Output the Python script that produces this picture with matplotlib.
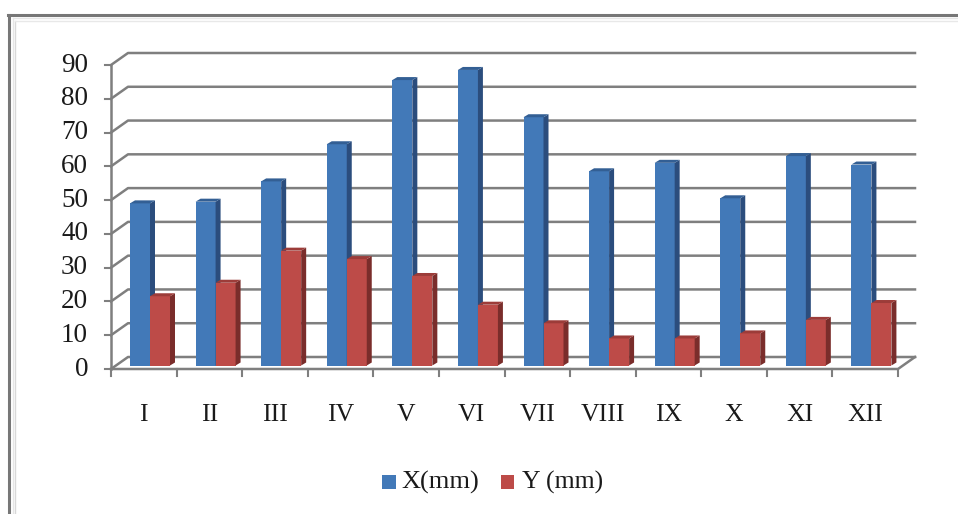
import matplotlib
matplotlib.use("Agg")
import matplotlib.pyplot as plt
from matplotlib.patches import Polygon, Rectangle

months = ["I", "II", "III", "IV", "V", "VI", "VII", "VIII", "IX", "X", "XI", "XII"]
x_mm = [48, 48.5, 54.5, 65.5, 84.5, 87.5, 73.5, 57.5, 60, 49.5, 62, 59.5]
y_mm = [20.5, 24.5, 34, 31.5, 26.5, 18, 12.5, 8, 8, 9.5, 13.5, 18.5]
y_ticks = [0, 10, 20, 30, 40, 50, 60, 70, 80, 90]

W, H = 958, 514
plt.rcParams["font.family"] = "Liberation Serif"
fig = plt.figure(figsize=(W / 100, H / 100), dpi=100)

# front plane of the fake 3d box, in pixels
left, right, y0, y90 = 111, 898, 369, 65
ax = fig.add_axes([left / W, 1 - y0 / H, (right - left) / W, (y0 - y90) / H])
ax.set_xlim(0, 12)
ax.set_ylim(0, 90)
ax.axis("off")

px = 12 / (right - left)
py = 90 / (y0 - y90)
dx, dy = 17 * px, 12 * py


def p(verts, **kw):
    ax.add_patch(Polygon(verts, closed=True, clip_on=False, **kw))


# grid on back wall + the slanted bit on the left side
grid = "#7f7f7f"
for v in y_ticks:
    ax.plot([0, dx, 12 + dx], [v, v + dy, v + dy], color=grid, lw=1.8, clip_on=False, zorder=1)
    ax.plot([-6 * px, 0], [v, v], color=grid, lw=1.5, clip_on=False, zorder=1)
ax.plot([0, 0], [0, 90], color=grid, lw=1.8, clip_on=False, zorder=1)
ax.plot([0, 12, 12 + dx], [0, 0, dy], color=grid, lw=1.8, clip_on=False, zorder=1)
for i in range(13):
    ax.plot([i, i], [0, -7 * py], color=grid, lw=1.5, clip_on=False, zorder=1)


def bar3d(i, val, off, face, side, top):
    # off = front left of the bar in px from the category start
    x0 = i + off * px
    w = 20 * px
    b = 3.5 * py
    ddx, ddy = 5 * px, 3 * py
    ax.bar(x0, val, w, bottom=b, align="edge", color=face, zorder=3, clip_on=False)
    top_y = b + val
    p([(x0 + w, b), (x0 + w + ddx, b + ddy), (x0 + w + ddx, top_y + ddy), (x0 + w, top_y)], fc=side, ec="none", zorder=3)
    p([(x0, top_y), (x0 + ddx, top_y + ddy), (x0 + w + ddx, top_y + ddy), (x0 + w, top_y)], fc=top, ec="none", zorder=3)


for i in range(12):
    bar3d(i, x_mm[i], 19, "#4279b8", "#2b4d7d", "#335f94")
    bar3d(i, y_mm[i], 39, "#bd4b48", "#7a2d2b", "#9c3c39")

for v in y_ticks:
    ax.text(-23 * px, v, str(v), ha="right", va="center", fontsize=19.5, color="#1a1a1a")
for i, m in enumerate(months):
    ax.text(i + 0.5, -46 * py, m, ha="center", va="center", fontsize=18.5, color="#1a1a1a")

# legend done by hand
fig.add_artist(Rectangle((382 / W, 1 - 489 / H), 14 / W, 14 / H, fc="#4279b8", ec="none"))
fig.text(401 / W, 1 - 482 / H, "X(mm)", ha="left", va="center", fontsize=19, color="#1a1a1a")
fig.add_artist(Rectangle((501 / W, 1 - 489 / H), 13 / W, 14 / H, fc="#bd4b48", ec="none"))
fig.text(522 / W, 1 - 482 / H, "Y (mm)", ha="left", va="center", fontsize=18.5, color="#1a1a1a")

# picture frame
fig.add_artist(plt.Line2D([8.5 / W, 8.5 / W], [0, 1 - 15 / H], color="#777777", lw=2.2))
fig.add_artist(plt.Line2D([7.5 / W, 1], [1 - 15 / H, 1 - 15 / H], color="#777777", lw=2.2))
fig.add_artist(plt.Line2D([12.5 / W, 12.5 / W], [0, 1 - 18 / H], color="#e6e6e6", lw=1))
fig.add_artist(plt.Line2D([15.5 / W, 15.5 / W], [0, 1 - 21 / H], color="#d8d8d8", lw=1))
fig.add_artist(plt.Line2D([12.5 / W, 1], [1 - 18 / H, 1 - 18 / H], color="#e6e6e6", lw=1))
fig.add_artist(plt.Line2D([15.5 / W, 1], [1 - 21 / H, 1 - 21 / H], color="#e8e8e8", lw=1))

fig.savefig("out.png", dpi=100)
